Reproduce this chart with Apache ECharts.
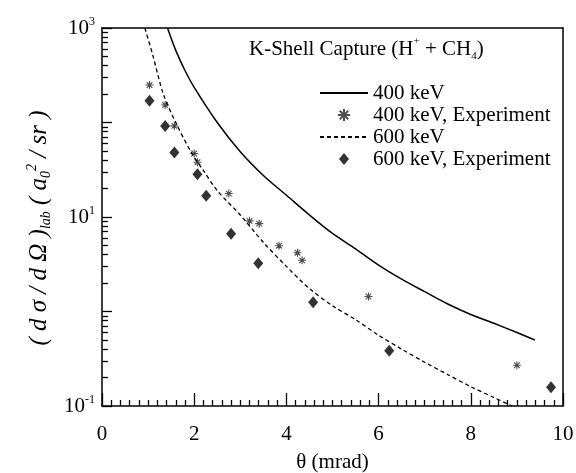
<!DOCTYPE html>
<html>
<head>
<meta charset="utf-8">
<script src="https://cdn.jsdelivr.net/npm/echarts@6/dist/echarts.min.js"></script>
<style>
  html, body { margin: 0; padding: 0; background: #fff; }
  #main { width: 576px; height: 473px; }
</style>
</head>
<body>
<div id="main"></div>
<script>
// theory curves
var theta400 = [1.42, 1.6, 1.8, 2.0, 2.5, 3.0, 3.5, 4.0, 4.5, 5.0, 5.5, 6.0, 6.5, 7.0, 7.5, 8.0, 8.5, 9.0, 9.39];
var sigma400 = [1000, 580, 355, 235, 100, 49, 27.5, 17, 10.5, 6.7, 4.6, 3.1, 2.2, 1.62, 1.2, 0.93, 0.75, 0.6, 0.5];
var theta600 = [0.93, 1.1, 1.33, 1.6, 1.95, 2.2, 2.5, 3.0, 3.5, 4.0, 4.5, 5.0, 5.5, 6.0, 6.5, 7.0, 7.5, 8.0, 8.5, 8.9];
var sigma600 = [1000, 520, 200, 100, 47, 31, 19, 10.5, 5.4, 3.0, 1.75, 1.15, 0.82, 0.56, 0.4, 0.29, 0.215, 0.16, 0.123, 0.1];

// experiment points
var expTheta400 = [1.03, 1.37, 1.57, 2.0, 2.07, 2.75, 3.2, 3.41, 3.84, 4.24, 4.34, 5.78, 9.0];
var expSigma400 = [249, 153, 92, 47, 38, 17.7, 9.1, 8.5, 4.97, 4.19, 3.48, 1.44, 0.27];
var expTheta600 = [1.03, 1.37, 1.57, 2.07, 2.26, 2.8, 3.39, 4.58, 6.23, 9.74];
var expSigma600 = [170, 92, 48, 28.4, 16.8, 6.65, 3.24, 1.25, 0.385, 0.158];

function pairs(xs, ys) {
  return xs.map(function (x, i) { return [x, ys[i]]; });
}

var serif = 'Liberation Serif, Times New Roman, serif';
var star = 'path://M0,-5L0,5M-5,0L5,0M-3.5,-3.5L3.5,3.5M-3.5,3.5L3.5,-3.5';
var diamond = 'path://M5,0L10,6L5,12L0,6Z';
var noSymbol = { color: 'rgba(0,0,0,0)', borderColor: 'rgba(0,0,0,0)', borderWidth: 0 };
var boxLine = { show: true, onZero: false, lineStyle: { color: '#000', width: 1.5 } };

var myChart = echarts.init(document.getElementById('main'));
var option = {
  backgroundColor: '#fff',
  animation: false,
  title: {
    text: 'K-Shell Capture (H{sup|+} + CH{sub|4})',
    left: 244,
    top: 31,
    textStyle: {
      fontFamily: serif, fontSize: 21, fontWeight: 'normal', color: '#000', lineHeight: 26,
      rich: {
        sup: { fontFamily: serif, fontSize: 11, verticalAlign: 'top', lineHeight: 11 },
        sub: { fontFamily: serif, fontSize: 11, verticalAlign: 'bottom', lineHeight: 11 }
      }
    }
  },
  legend: {
    orient: 'vertical',
    left: 314,
    top: 77,
    itemWidth: 48,
    itemHeight: 12,
    itemGap: 0,
    symbolKeepAspect: true,
    textStyle: { fontFamily: serif, fontSize: 21, color: '#000', lineHeight: 22 },
    data: [
      { name: '400 keV', itemStyle: noSymbol },
      { name: '400 keV, Experiment' },
      { name: '600 keV', itemStyle: noSymbol },
      { name: '600 keV, Experiment' }
    ]
  },
  grid: {
    left: 102, right: 13, top: 28, bottom: 67,
    outerBoundsMode: 'none',
    show: false
  },
  xAxis: [{
    type: 'value',
    min: 0, max: 10, interval: 2,
    name: 'θ (mrad)',
    nameLocation: 'middle',
    nameGap: 46,
    nameTextStyle: { fontFamily: serif, fontSize: 21, color: '#000' },
    axisLine: boxLine,
    axisTick: { inside: true, length: 13, lineStyle: { color: '#000', width: 1.3 } },
    minorTick: { show: true, splitNumber: 10, length: 6, lineStyle: { color: '#000', width: 1.3 } },
    splitLine: { show: false },
    axisLabel: { fontFamily: serif, fontSize: 21, color: '#000', margin: 18 }
  }, {
    // top edge of the frame
    type: 'value',
    min: 0, max: 10,
    position: 'top',
    axisLine: boxLine,
    axisTick: { show: false },
    axisLabel: { show: false },
    splitLine: { show: false }
  }],
  yAxis: [{
    type: 'log',
    logBase: 10,
    min: 0.1, max: 1000,
    name: '( d σ / d Ω ){sub|lab} ( a{sub|0}{sup|2} / sr )',
    nameLocation: 'middle',
    nameGap: 47,
    nameTextStyle: {
      fontFamily: serif, fontSize: 25, fontStyle: 'italic', color: '#000', lineHeight: 28,
      padding: [0, 22, 0, 0],
      rich: {
        sub: { fontFamily: serif, fontSize: 14, fontStyle: 'italic', verticalAlign: 'bottom', lineHeight: 14 },
        sup: { fontFamily: serif, fontSize: 14, fontStyle: 'italic', verticalAlign: 'top', lineHeight: 14 }
      }
    },
    axisLine: boxLine,
    axisTick: { inside: true, length: 10, lineStyle: { color: '#000', width: 1.3 } },
    minorTick: { show: true, splitNumber: 9, length: 6, lineStyle: { color: '#000', width: 1.3 } },
    splitLine: { show: false },
    axisLabel: {
      margin: 7,
      formatter: function (v) {
        var e = Math.round(Math.log10(v));
        if (e % 2 === 0) return '';
        return '10{sup|' + e + '}';
      },
      fontFamily: serif, fontSize: 21, color: '#000', lineHeight: 24,
      rich: {
        sup: { fontFamily: serif, fontSize: 12, color: '#000', verticalAlign: 'top', lineHeight: 12 }
      }
    }
  }, {
    // right edge of the frame
    type: 'log',
    logBase: 10,
    min: 0.1, max: 1000,
    position: 'right',
    axisLine: boxLine,
    axisTick: { show: false },
    axisLabel: { show: false },
    splitLine: { show: false }
  }, {
    // plain copy of the left axis that only carries the short log ticks
    type: 'log',
    logBase: 10,
    min: 0.1, max: 1000,
    position: 'left',
    axisLine: { show: false, onZero: false },
    axisLabel: { show: false },
    splitLine: { show: false },
    axisTick: { show: true, inside: true, length: 10, lineStyle: { color: '#000' } },
    minorTick: { show: true, splitNumber: 9, length: 6, lineStyle: { color: '#000' } }
  }],
  series: [{
    name: '400 keV',
    type: 'line',
    smooth: 0.3,
    symbol: 'none',
    data: pairs(theta400, sigma400),
    lineStyle: { color: '#000', width: 1.5 },
    itemStyle: { color: '#000' }
  }, {
    name: '400 keV, Experiment',
    type: 'scatter',
    symbol: star,
    symbolSize: 8,
    data: pairs(expTheta400, expSigma400),
    itemStyle: { color: '#000', borderColor: '#222', borderWidth: 1.1 }
  }, {
    name: '600 keV',
    type: 'line',
    smooth: 0.3,
    symbol: 'none',
    data: pairs(theta600, sigma600),
    lineStyle: { color: '#000', width: 1.3, type: [4, 3] },
    itemStyle: { color: '#000' }
  }, {
    name: '600 keV, Experiment',
    type: 'scatter',
    symbol: diamond,
    symbolKeepAspect: true,
    symbolSize: 12,
    data: pairs(expTheta600, expSigma600),
    itemStyle: { color: '#000' }
  }]
};
myChart.setOption(option);
</script>
</body>
</html>
